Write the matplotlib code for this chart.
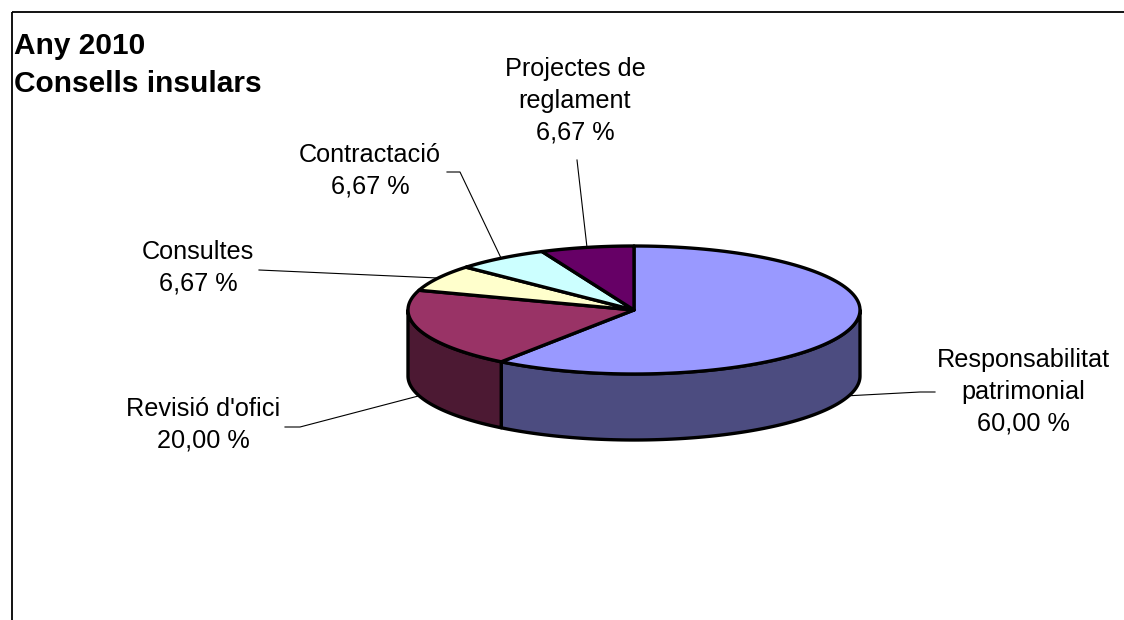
import matplotlib.pyplot as plt
import numpy as np
from matplotlib.patches import Polygon, Rectangle

plt.rcParams['font.family'] = ['Liberation Sans', 'DejaVu Sans']

# data
categories = ['Responsabilitat\npatrimonial', "Revisió d'ofici", 'Consultes',
              'Contractació', 'Projectes de\nreglament']
percentages = [60.00, 20.00, 6.67, 6.67, 6.67]
top_colors = ['#9999FF', '#993366', '#FFFFCC', '#CCFFFF', '#660066']
side_colors = ['#4C4C80', '#4C1933', '#808066', '#668080', '#330033']
title_lines = ['Any 2010', 'Consells insulars']

# geometry of the 3D pie (pixel space, y down)
cx, cy = 634, 310
rx, ry = 226, 64
depth = 66

# label centres and leader elbows
label_pos = [(1023, 392), (203, 425), (198, 268), (370, 171), (575, 101)]
leader_start = [[(935, 392), (920, 392)], [(285, 427), (300, 427)],
                [(259, 270)], [(447, 172), (460, 172)], [(577, 160)]]


def ell(theta, dy=0.0):
    t = np.radians(theta)
    return cx + rx * np.cos(t), cy - ry * np.sin(t) + dy


def arc(a0, a1, dy=0.0, n=120):
    ts = np.linspace(a0, a1, n)
    xs, ys = ell(ts, dy)
    return np.column_stack([xs, ys])


fig = plt.figure(figsize=(11.24, 6.2), dpi=100)
ax = fig.add_axes([0, 0, 1, 1])
ax.set_xlim(0, 1124)
ax.set_ylim(620, 0)
ax.axis('off')

# frame
ax.add_patch(Rectangle((12, 12), 1300, 800, fill=False, lw=1.3, ec='black'))

fracs = np.array(percentages) / sum(percentages)
starts = 90 - 360 * np.concatenate([[0], np.cumsum(fracs)[:-1]])
ends = starts - 360 * fracs

# side walls (front half only: angles between -180 and 0)
for i in range(len(fracs)):
    lo, hi = min(starts[i], ends[i]), max(starts[i], ends[i])
    f_lo, f_hi = max(lo, -180), min(hi, 0)
    if f_hi > f_lo:
        top = arc(f_hi, f_lo)
        bot = arc(f_lo, f_hi, depth)
        ax.add_patch(Polygon(np.vstack([top, bot]), closed=True,
                             fc=side_colors[i], ec='black', lw=2.4, joinstyle='round', zorder=2))

# top faces
for i in range(len(fracs)):
    pts = np.vstack([[cx, cy], arc(starts[i], ends[i])])
    ax.add_patch(Polygon(pts, closed=True, fc=top_colors[i], ec='black',
                         lw=2.4, joinstyle='round', zorder=3))

# labels and leader lines
for i in range(len(fracs)):
    mid = (starts[i] + ends[i]) / 2
    front = np.sin(np.radians(mid)) < 0
    ax_, ay_ = ell(mid, depth if front else 0)
    pts = leader_start[i] + [(ax_, ay_)]
    xs, ys = zip(*pts)
    ax.plot(xs, ys, color='black', lw=0.8, zorder=1)
    txt = f"{categories[i]}\n{percentages[i]:.2f} %".replace('.', ',')
    ax.text(label_pos[i][0], label_pos[i][1], txt, fontsize=18.2, ha='center',
            va='center', linespacing=1.42)

ax.text(14, 46, title_lines[0], fontsize=21.5, fontweight='bold', va='center')
ax.text(14, 84, title_lines[1], fontsize=21.5, fontweight='bold', va='center')

fig.savefig('out.png', dpi=100)
